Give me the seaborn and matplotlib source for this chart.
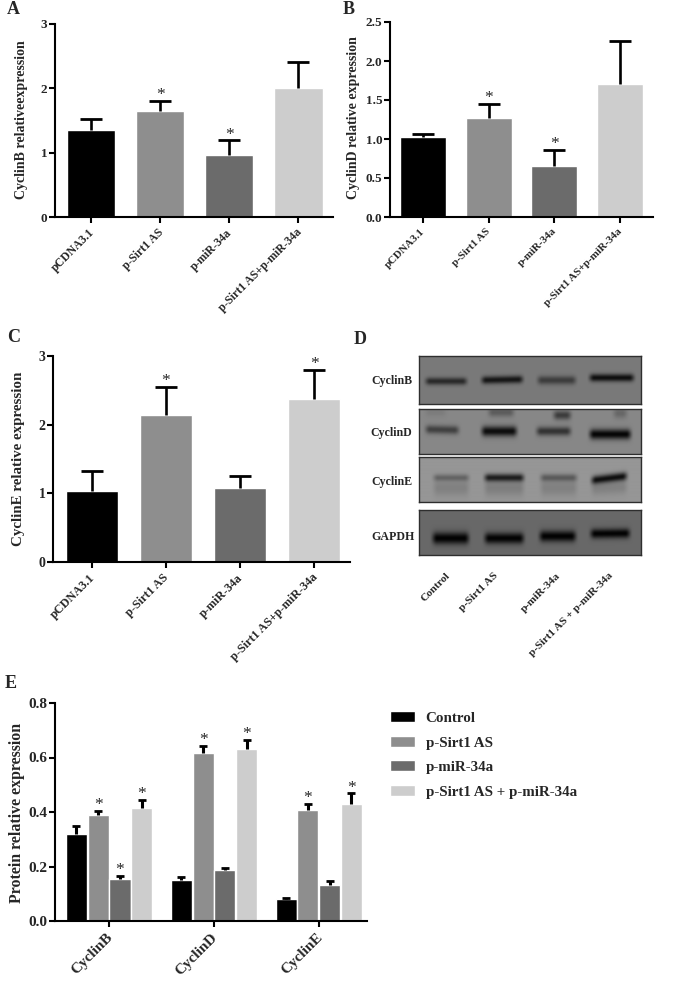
import numpy as np
import pandas as pd
import seaborn as sns
import matplotlib.pyplot as plt
from matplotlib.transforms import ScaledTranslation

W, H = 685, 989

# panel A-C values
groups = ["pCDNA3.1", "p-Sirt1 AS", "p-miR-34a", "p-Sirt1 AS+p-miR-34a"]
cyclinb_mean = [1.36, 1.64, 0.97, 2.00]
cyclinb_err = [0.17, 0.16, 0.22, 0.41]
cyclinb_star = [0, 1, 1, 0]
cyclind_mean = [1.02, 1.27, 0.66, 1.71]
cyclind_err = [0.04, 0.18, 0.20, 0.55]
cyclind_star = [0, 1, 1, 0]
cycline_mean = [1.04, 2.14, 1.08, 2.38]
cycline_err = [0.28, 0.41, 0.17, 0.42]
cycline_star = [0, 1, 0, 1]

# panel E values, one list per treatment
proteins = ["CyclinB", "CyclinD", "CyclinE"]
treatments = ["Control", "p-Sirt1 AS", "p-miR-34a", "p-Sirt1 AS + p-miR-34a"]
control_mean = [0.320, 0.150, 0.080]
sirt_mean = [0.388, 0.615, 0.408]
mir_mean = [0.153, 0.188, 0.133]
both_mean = [0.413, 0.630, 0.430]
control_err = [0.028, 0.011, 0.003]
sirt_err = [0.015, 0.028, 0.023]
mir_err = [0.012, 0.005, 0.012]
both_err = [0.032, 0.035, 0.038]
control_star = [0, 0, 0]
sirt_star = [1, 1, 1]
mir_star = [1, 0, 0]
both_star = [1, 1, 1]

greys = ["#000000", "#8e8e8e", "#6b6b6b", "#cdcdcd"]

# western blot bands: x start, x end, y start, y end, spread, darkness
blot_names = ["CyclinB", "CyclinD", "CyclinE", "GAPDH"]
blot_background = [122, 135, 150, 104]
bands_b = [(3, 51, 25, 25, 2.6, 0.66), (59, 107, 24, 23, 2.7, 0.82),
           (115, 160, 24, 24, 3.0, 0.50), (167, 218, 21.5, 21.5, 2.7, 0.88)]
bands_d = [(3, 43, 20, 21, 3.0, 0.52), (59, 101, 22, 22, 3.6, 0.90),
           (114, 155, 22, 22, 3.1, 0.62), (167, 215, 25, 25, 3.6, 0.96),
           (66, 98, 3, 3, 3.2, 0.32), (131, 155, 6, 6, 3.2, 0.55), (191, 211, 4, 4, 3.6, 0.24),
           (3, 30, 3, 3, 3.0, 0.08)]
bands_e = [(11, 53, 21, 21, 2.4, 0.32), (62, 108, 21, 21, 2.7, 0.80),
           (118, 161, 21, 21, 2.6, 0.38), (169, 211, 24, 19, 2.9, 0.90),
           (11, 53, 31, 31, 5.5, 0.14), (62, 108, 31, 31, 5.5, 0.16),
           (118, 161, 31, 31, 5.5, 0.14), (169, 211, 32, 30, 4.5, 0.14)]
bands_g = [(10, 53, 28, 28, 4.2, 0.98), (62, 108, 28, 28, 3.9, 0.97),
           (117, 160, 26, 26, 3.9, 0.98), (168, 214, 23.5, 23, 3.4, 0.97)]
blot_lanes = ["Control", "p-Sirt1 AS", "p-miR-34a", "p-Sirt1 AS + p-miR-34a"]

sns.set_theme(style="ticks")
plt.rcParams["font.family"] = ["Liberation Serif", "DejaVu Serif"]
plt.rcParams["font.weight"] = "bold"
plt.rcParams["axes.labelweight"] = "bold"

fig = plt.figure(figsize=(W / 100, H / 100), dpi=100, facecolor="white")


def px_axes(left, top, right, bottom):
    return fig.add_axes([left / W, 1 - bottom / H, (right - left) / W, (bottom - top) / H])


def px_text(x, y, s, **kw):
    fig.text(x / W, 1 - y / H, s, **kw)


def style_axes(ax, fs, xfs):
    sns.despine(ax=ax)
    ax.set_xlabel("")
    ax.set_ylabel("")
    ax.set_facecolor("white")
    for side in ["left", "bottom"]:
        ax.spines[side].set_linewidth(1.5)
        ax.spines[side].set_color("black")
    ax.tick_params(axis="both", length=4, width=1.5, color="black", pad=1.5, labelsize=fs)
    ax.tick_params(axis="x", pad=3, labelsize=xfs)
    shift = ScaledTranslation(-3 / 100, 0, fig.dpi_scale_trans)
    for lab in ax.get_xticklabels():
        lab.set_rotation(45)
        lab.set_ha("right")
        lab.set_rotation_mode("anchor")
        lab.set_transform(lab.get_transform() + shift)


def upper_err(ax, xs, mean, err, lw, cap, capthick):
    # only the upper cap is shown, like the original
    bars = ax.errorbar(xs, mean, yerr=[[0] * len(mean), err], fmt="none", ecolor="black",
                       elinewidth=lw, capsize=cap, capthick=capthick)
    bars[1][0].set_visible(False)


def add_stars(ax, xs, mean, err, star):
    for x, m, e, s in zip(xs, mean, err, star):
        if s:
            ax.annotate("*", (x, m + e), xytext=(0, -1.5), textcoords="offset points",
                        ha="center", va="bottom", fontsize=12.5, fontweight="normal")


def simple_panel(box, mean, err, star, ylim, yticks, ticklabels, xlim, fs, xfs):
    ax = px_axes(*box)
    sns.barplot(x=groups, y=mean, hue=groups, palette=greys, saturation=1, width=0.7,
                legend=False, errorbar=None, ax=ax)
    upper_err(ax, range(4), mean, err, 1.9, 8, 2)
    add_stars(ax, range(4), mean, err, star)
    ax.set_xlim(*xlim)
    ax.set_ylim(*ylim)
    ax.set_yticks(yticks, ticklabels)
    style_axes(ax, fs, xfs)
    return ax


simple_panel((55, 24, 333, 217), cyclinb_mean, cyclinb_err, cyclinb_star, (0, 3), [0, 1, 2, 3],
             ["0", "1", "2", "3"], (-0.52, 3.5), 9.5, 8.5)
simple_panel((390, 22, 653, 217), cyclind_mean, cyclind_err, cyclind_star, (0, 2.5),
             [0, 0.5, 1, 1.5, 2, 2.5], ["0.0", "0.5", "1.0", "1.5", "2.0", "2.5"], (-0.5, 3.5), 9.5, 7.9)
simple_panel((53, 356, 350, 562), cycline_mean, cycline_err, cycline_star, (0, 3), [0, 1, 2, 3],
             ["0", "1", "2", "3"], (-0.52, 3.48), 10, 8.8)

px_text(22, 120, "CyclinB relativeexpression", rotation=90, ha="center", va="center", fontsize=10)
px_text(354, 118, "CyclinD relative expression", rotation=90, ha="center", va="center", fontsize=10)
px_text(19, 459, "CyclinE relative expression", rotation=90, ha="center", va="center", fontsize=10.8)

# panel E
ax_e = px_axes(55, 703, 367, 921)
df = pd.DataFrame({
    "protein": proteins * 4,
    "treatment": [t for t in treatments for _ in proteins],
    "value": control_mean + sirt_mean + mir_mean + both_mean,
})
sns.barplot(data=df, x="protein", y="value", hue="treatment", palette=greys, saturation=1,
            width=0.83, gap=0.03, errorbar=None, ax=ax_e)
all_err = [control_err, sirt_err, mir_err, both_err]
all_mean = [control_mean, sirt_mean, mir_mean, both_mean]
all_star = [control_star, sirt_star, mir_star, both_star]
# errorbar adds to ax.containers, so take the bars first
bar_sets = list(ax_e.containers)
for c, container in enumerate(bar_sets):
    xs = [b.get_x() + b.get_width() / 2 for b in container]
    upper_err(ax_e, xs, all_mean[c], all_err[c], 2.2, 3.2, 2)
    add_stars(ax_e, xs, all_mean[c], all_err[c], all_star[c])
ax_e.set_xlim(-0.516, 2.46)
ax_e.set_ylim(0, 0.8)
ax_e.set_yticks([0, 0.2, 0.4, 0.6, 0.8], ["0.0", "0.2", "0.4", "0.6", "0.8"])
style_axes(ax_e, 11, 11)
px_text(17, 813, "Protein relative expression", rotation=90, ha="center", va="center", fontsize=11.4)

handles, labels = ax_e.get_legend_handles_labels()
ax_e.get_legend().remove()
fig.legend(handles, labels, loc="upper left", bbox_to_anchor=(385 / W, 1 - 707 / H), frameon=False,
           fontsize=10.8, handlelength=1.67, handleheight=0.74, handletextpad=0.73, labelspacing=0.72,
           borderpad=0.3, borderaxespad=0)

# panel D, blots are drawn as grey images built from the band lists above
blot_boxes = [(419, 356, 641, 404), (419, 409, 641, 454), (419, 457, 641, 502), (419, 510, 641, 555)]
label_y = [381, 433, 482, 537]
label_x = [412, 412, 412, 415]
for name, bg, bands, box, ly, lx in zip(blot_names, blot_background,
                                        [bands_b, bands_d, bands_e, bands_g],
                                        blot_boxes, label_y, label_x):
    w = box[2] - box[0]
    h = box[3] - box[1]
    xx, yy = np.meshgrid(np.arange(w * 2) / 2, np.arange(h * 2) / 2)
    img = np.full(xx.shape, float(bg))
    for x0, x1, y0, y1, spread, dark in bands:
        along = np.clip((xx - x0) / 8, 0, 1) * np.clip((x1 - xx) / 8, 0, 1)
        along = along * along * (3 - 2 * along)
        centre = y0 + (y1 - y0) * np.clip((xx - x0) / (x1 - x0), 0, 1)
        img *= 1 - dark * along * np.exp(-((yy - centre) ** 2) / (2 * spread ** 2))
    ax = px_axes(*box)
    ax.imshow(img, cmap="gray", vmin=0, vmax=255, aspect="auto", interpolation="bilinear")
    ax.set_xticks([])
    ax.set_yticks([])
    for sp in ax.spines.values():
        sp.set_linewidth(1.0)
        sp.set_color("#2e2e2e")
    px_text(lx, ly, name, ha="right", va="center", fontsize=8.6)

lane_end_x = [446, 493, 556, 608]
for lane, x in zip(blot_lanes, lane_end_x):
    px_text(x, 571, lane, rotation=45, ha="right", va="top", rotation_mode="anchor", fontsize=8.1)

for letter, x, y in [("A", 7, 10), ("B", 343, 10), ("C", 7, 337), ("D", 354, 340), ("E", 5, 683)]:
    px_text(x, y, letter, ha="left", va="center", fontsize=13)

fig.savefig("out.png", dpi=100)
